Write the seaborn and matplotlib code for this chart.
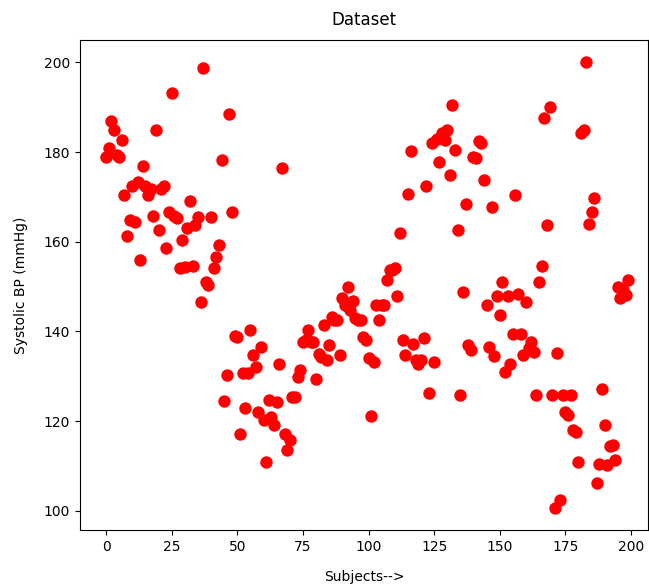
import numpy as np
import pandas as pd
import seaborn as sns
import matplotlib
matplotlib.use("Agg")
import matplotlib.pyplot as plt

# systolic BP, one value per subject
subjects = list(range(200))
systolic_bp = [
    178.8, 180.8, 187.0, 185.0, 179.3, 179.0, 182.6, 170.4, 161.2, 164.8,
    172.4, 164.4, 173.3, 155.9, 176.8, 172.4, 170.4, 171.7, 165.7, 185.0,
    162.6, 171.7, 172.4, 158.6, 166.6, 193.1, 165.7, 165.3, 154.1, 160.4,
    154.3, 163.0, 169.0, 154.6, 163.7, 165.5, 146.5, 198.7, 151.0, 150.3,
    165.5, 154.1, 156.6, 159.2, 178.2, 124.5, 130.3, 188.4, 166.6, 139.0,
    138.8, 117.1, 130.7, 123.0, 130.7, 140.3, 134.7, 132.1, 122.0, 136.5,
    120.3, 110.9, 124.7, 120.9, 119.2, 124.3, 132.7, 176.4, 117.1, 113.6,
    115.8, 125.4, 125.4, 129.8, 131.4, 137.6, 138.1, 140.3, 137.6, 137.6,
    129.4, 135.0, 134.3, 141.4, 133.6, 137.0, 143.2, 142.5, 142.5, 134.7,
    147.4, 145.9, 149.9, 144.8, 146.8, 143.0, 142.5, 142.5, 138.8, 138.1,
    134.1, 121.2, 133.2, 145.9, 142.5, 145.9, 145.9, 151.4, 153.7, 153.7,
    154.1, 147.9, 161.9, 138.1, 134.7, 170.6, 180.2, 137.2, 133.6, 132.7,
    133.6, 138.5, 172.4, 126.3, 182.0, 133.2, 182.9, 177.7, 184.2, 182.6,
    184.9, 174.8, 190.6, 180.4, 162.6, 125.8, 148.8, 168.4, 137.0, 135.9,
    178.8, 178.6, 182.4, 182.0, 173.7, 145.9, 136.5, 167.7, 134.5, 147.9,
    143.7, 151.0, 131.0, 147.9, 132.7, 139.4, 170.4, 148.3, 139.4, 134.7,
    146.5, 136.3, 137.6, 135.4, 125.8, 151.0, 154.6, 187.5, 163.7, 190.0,
    125.8, 100.7, 135.2, 102.4, 125.8, 122.0, 121.4, 125.8, 118.0, 117.6,
    110.9, 184.2, 184.9, 200.0, 163.9, 166.6, 169.7, 106.2, 110.5, 127.2,
    119.2, 110.2, 114.5, 114.7, 111.4, 149.9, 147.4, 149.2, 148.1, 151.4,
]

df = pd.DataFrame({"subject": subjects, "bp": systolic_bp})

fig = plt.figure(figsize=(6.49, 5.87), dpi=100)
ax = fig.add_axes([80 / 649, 57 / 587, 568 / 649, 490 / 587])
sns.scatterplot(data=df, x="subject", y="bp", color="red", s=80,
                linewidth=0, ax=ax)
ax.set_xlim(-9.95, 206.5)
ax.set_ylim(95.7, 205.0)
ax.set_title("Dataset", pad=11)
ax.set_xlabel("Subjects-->", labelpad=12)
ax.set_ylabel("Systolic BP (mmHg)", labelpad=11)
fig.savefig("out.png", dpi=100)
